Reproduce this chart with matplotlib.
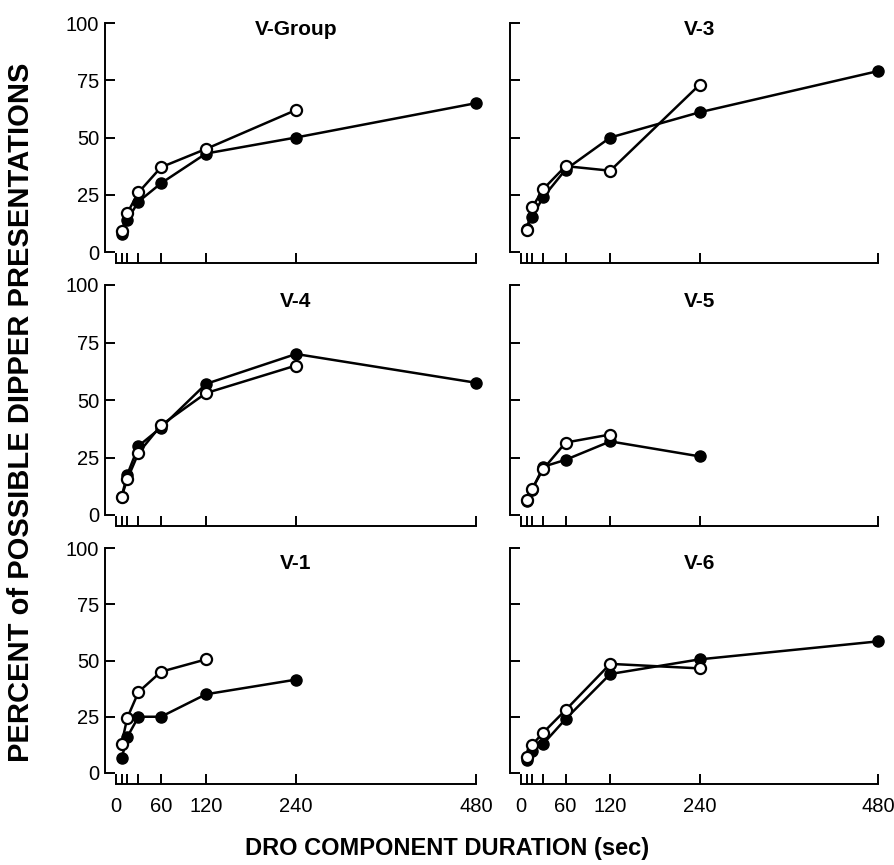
import matplotlib
matplotlib.use('Agg')
import matplotlib.pyplot as plt

plt.rcParams['font.family'] = ['Liberation Sans', 'DejaVu Sans']

# DRO component durations (sec)
dro = [7.5, 15, 30, 60, 120, 240, 480]

names = ['V-Group', 'V-3', 'V-4', 'V-5', 'V-1', 'V-6']

# filled circles
filled_vals = {
    'V-Group': [8, 14, 22, 30, 43, 50, 65],
    'V-3': [10, 15.5, 24, 36, 50, 61, 79],
    'V-4': [8, 17.5, 30, 38, 57, 70, 57.5],
    'V-5': [6, 11, 21, 24, 32, 25.5],
    'V-1': [6.5, 16, 25, 25, 35, 41.5],
    'V-6': [6, 10, 13, 24, 44, 50.5, 58.5],
}
# open circles
open_vals = {
    'V-Group': [9, 17, 26, 37, 45, 62],
    'V-3': [9.5, 19.5, 27.5, 37.5, 35.5, 73],
    'V-4': [8, 15.5, 27, 39, 53, 65],
    'V-5': [6.5, 11.5, 20, 31.5, 35],
    'V-1': [13, 24.5, 36, 45, 50.5],
    'V-6': [7, 12.5, 18, 28, 48.5, 46.5],
}

xticks = [0, 7.5, 15, 30, 60, 120, 240, 480]
xticklabels = ['0', '', '', '', '60', '120', '240', '480']
yticks = [0, 25, 50, 75, 100]

W, H = 894, 865
fig = plt.figure(figsize=(W / 100., H / 100.), dpi=100)

# pixel layout of each panel: (x0, x480) and (y100, y0)
cols = [(116, 476), (521, 878)]
rows = [(23, 252), (285, 515), (548, 773)]
title_y = [97, 93, 93]

for i, name in enumerate(names):
    r, c = divmod(i, 2)
    x0, x1 = cols[c]
    ytop, ybot = rows[r]
    ax = fig.add_axes([x0 / W, 1 - ybot / H, (x1 - x0) / W, (ybot - ytop) / H])

    fv = filled_vals[name]
    ov = open_vals[name]
    ax.plot(dro[:len(fv)], fv, 'k-', lw=1.8, marker='o', ms=8,
            mfc='k', mec='k', clip_on=False, zorder=3)
    ax.plot(dro[:len(ov)], ov, 'k-', lw=1.8, marker='o', ms=8,
            mfc='white', mec='k', mew=1.6, clip_on=False, zorder=4)

    ax.set_xlim(0, 480)
    ax.set_ylim(0, 100)
    for s in ['top', 'right']:
        ax.spines[s].set_visible(False)
    ax.spines['left'].set_position(('outward', 8))
    ax.spines['bottom'].set_position(('outward', 8))
    ax.spines['left'].set_bounds(0, 100)
    ax.spines['bottom'].set_bounds(0, 480)
    ax.spines['left'].set_linewidth(1.4)
    ax.spines['bottom'].set_linewidth(1.4)

    ax.set_xticks(xticks)
    ax.set_yticks(yticks)
    ax.tick_params(direction='in', length=7, width=1.4, labelsize=14.5)
    ax.tick_params(axis='y', pad=4)
    ax.tick_params(axis='x', pad=9)
    if r == 2:
        ax.set_xticklabels(xticklabels)
    else:
        ax.set_xticklabels([])
    if c == 1:
        ax.set_yticklabels([])

    ax.text(240, title_y[r], name, ha='center', va='center',
            fontsize=15, fontweight='bold')

fig.text(21 / W, 1 - 412 / H, 'PERCENT of POSSIBLE DIPPER PRESENTATIONS',
         rotation=90, ha='center', va='center', fontsize=21, fontweight='bold')
fig.text(447 / W, 1 - 848 / H, 'DRO COMPONENT DURATION (sec)',
         ha='center', va='center', fontsize=17, fontweight='bold')

plt.savefig('out.png', dpi=100)
